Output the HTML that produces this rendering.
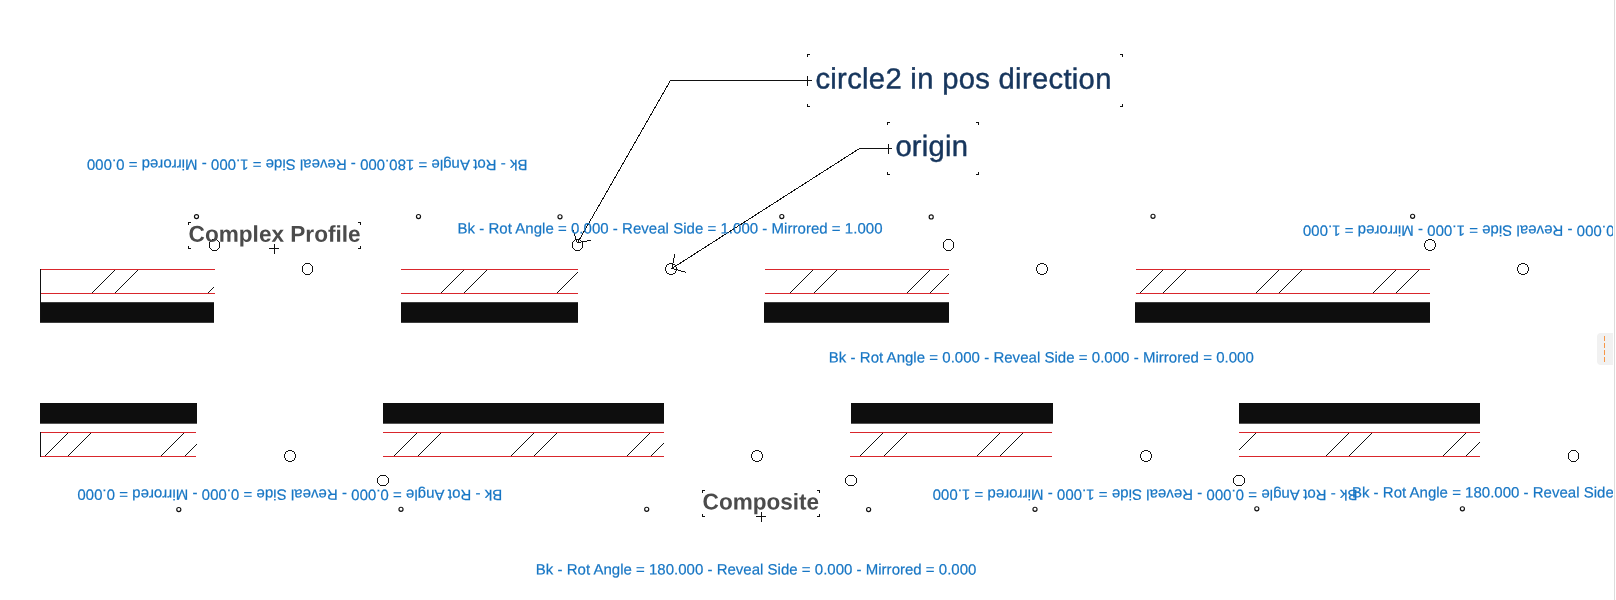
<!DOCTYPE html>
<html><head><meta charset="utf-8"><title>drawing</title>
<style>
html,body{margin:0;padding:0;background:#fff;overflow:hidden}
body{width:1616px;height:600px;position:relative;font-family:"Liberation Sans",sans-serif}
#view{position:absolute;left:0;top:0;width:1613px;height:600px;overflow:hidden;will-change:transform}
svg{display:block;font-family:"Liberation Sans",sans-serif}
svg text{white-space:pre}
#edge{position:absolute;left:1614px;top:0;width:1px;height:600px;background:#dcdcdc}
#tab{position:absolute;left:1597px;top:333px;width:16px;height:32px;background:#f1f1f1;border-radius:4px 0 0 4px}
#tab i{position:absolute;left:7px;top:3px;width:1px;height:26px;background:repeating-linear-gradient(to bottom,#f79646 0,#f79646 5px,transparent 5px,transparent 7px)}
</style></head><body>
<div id="view"><svg width="1613" height="600" viewBox="0 0 1613 600">
<rect x="40" y="302.2" width="174" height="20.6" fill="#0e0e0e"/>
<rect x="40" y="269" width="175" height="1" fill="#d9262c"/>
<rect x="40" y="293" width="175" height="1" fill="#d9262c"/>
<rect x="40" y="269" width="1" height="53" fill="#111"/>
<path d="M114,270h1v1h-1zM113,271h1v1h-1zM112,272h1v1h-1zM111,273h1v1h-1zM110,274h1v1h-1zM109,275h1v1h-1zM108,276h1v1h-1zM107,277h1v1h-1zM106,278h1v1h-1zM105,279h1v1h-1zM104,280h1v1h-1zM103,281h1v1h-1zM102,282h1v1h-1zM101,283h1v1h-1zM100,284h1v1h-1zM99,285h1v1h-1zM98,286h1v1h-1zM97,287h1v1h-1zM96,288h1v1h-1zM95,289h1v1h-1zM94,290h1v1h-1zM93,291h1v1h-1zM92,292h1v1h-1zM137,270h1v1h-1zM136,271h1v1h-1zM135,272h1v1h-1zM134,273h1v1h-1zM133,274h1v1h-1zM132,275h1v1h-1zM131,276h1v1h-1zM130,277h1v1h-1zM129,278h1v1h-1zM128,279h1v1h-1zM127,280h1v1h-1zM126,281h1v1h-1zM125,282h1v1h-1zM124,283h1v1h-1zM123,284h1v1h-1zM122,285h1v1h-1zM121,286h1v1h-1zM120,287h1v1h-1zM119,288h1v1h-1zM118,289h1v1h-1zM117,290h1v1h-1zM116,291h1v1h-1zM115,292h1v1h-1zM213,287h1v1h-1zM212,288h1v1h-1zM211,289h1v1h-1zM210,290h1v1h-1zM209,291h1v1h-1zM208,292h1v1h-1z" fill="#111" shape-rendering="crispEdges"/>
<rect x="401" y="302.2" width="177" height="20.6" fill="#0e0e0e"/>
<rect x="401" y="269" width="177" height="1" fill="#d9262c"/>
<rect x="401" y="293" width="177" height="1" fill="#d9262c"/>
<path d="M463,270h1v1h-1zM462,271h1v1h-1zM461,272h1v1h-1zM460,273h1v1h-1zM459,274h1v1h-1zM458,275h1v1h-1zM457,276h1v1h-1zM456,277h1v1h-1zM455,278h1v1h-1zM454,279h1v1h-1zM453,280h1v1h-1zM452,281h1v1h-1zM451,282h1v1h-1zM450,283h1v1h-1zM449,284h1v1h-1zM448,285h1v1h-1zM447,286h1v1h-1zM446,287h1v1h-1zM445,288h1v1h-1zM444,289h1v1h-1zM443,290h1v1h-1zM442,291h1v1h-1zM441,292h1v1h-1zM486,270h1v1h-1zM485,271h1v1h-1zM484,272h1v1h-1zM483,273h1v1h-1zM482,274h1v1h-1zM481,275h1v1h-1zM480,276h1v1h-1zM479,277h1v1h-1zM478,278h1v1h-1zM477,279h1v1h-1zM476,280h1v1h-1zM475,281h1v1h-1zM474,282h1v1h-1zM473,283h1v1h-1zM472,284h1v1h-1zM471,285h1v1h-1zM470,286h1v1h-1zM469,287h1v1h-1zM468,288h1v1h-1zM467,289h1v1h-1zM466,290h1v1h-1zM465,291h1v1h-1zM464,292h1v1h-1zM577,272h1v1h-1zM576,273h1v1h-1zM575,274h1v1h-1zM574,275h1v1h-1zM573,276h1v1h-1zM572,277h1v1h-1zM571,278h1v1h-1zM570,279h1v1h-1zM569,280h1v1h-1zM568,281h1v1h-1zM567,282h1v1h-1zM566,283h1v1h-1zM565,284h1v1h-1zM564,285h1v1h-1zM563,286h1v1h-1zM562,287h1v1h-1zM561,288h1v1h-1zM560,289h1v1h-1zM559,290h1v1h-1zM558,291h1v1h-1zM557,292h1v1h-1z" fill="#111" shape-rendering="crispEdges"/>
<rect x="764" y="302.2" width="185" height="20.6" fill="#0e0e0e"/>
<rect x="765" y="269" width="184" height="1" fill="#d9262c"/>
<rect x="765" y="293" width="184" height="1" fill="#d9262c"/>
<path d="M812,270h1v1h-1zM811,271h1v1h-1zM810,272h1v1h-1zM809,273h1v1h-1zM808,274h1v1h-1zM807,275h1v1h-1zM806,276h1v1h-1zM805,277h1v1h-1zM804,278h1v1h-1zM803,279h1v1h-1zM802,280h1v1h-1zM801,281h1v1h-1zM800,282h1v1h-1zM799,283h1v1h-1zM798,284h1v1h-1zM797,285h1v1h-1zM796,286h1v1h-1zM795,287h1v1h-1zM794,288h1v1h-1zM793,289h1v1h-1zM792,290h1v1h-1zM791,291h1v1h-1zM790,292h1v1h-1zM836,270h1v1h-1zM835,271h1v1h-1zM834,272h1v1h-1zM833,273h1v1h-1zM832,274h1v1h-1zM831,275h1v1h-1zM830,276h1v1h-1zM829,277h1v1h-1zM828,278h1v1h-1zM827,279h1v1h-1zM826,280h1v1h-1zM825,281h1v1h-1zM824,282h1v1h-1zM823,283h1v1h-1zM822,284h1v1h-1zM821,285h1v1h-1zM820,286h1v1h-1zM819,287h1v1h-1zM818,288h1v1h-1zM817,289h1v1h-1zM816,290h1v1h-1zM815,291h1v1h-1zM814,292h1v1h-1zM929,270h1v1h-1zM928,271h1v1h-1zM927,272h1v1h-1zM926,273h1v1h-1zM925,274h1v1h-1zM924,275h1v1h-1zM923,276h1v1h-1zM922,277h1v1h-1zM921,278h1v1h-1zM920,279h1v1h-1zM919,280h1v1h-1zM918,281h1v1h-1zM917,282h1v1h-1zM916,283h1v1h-1zM915,284h1v1h-1zM914,285h1v1h-1zM913,286h1v1h-1zM912,287h1v1h-1zM911,288h1v1h-1zM910,289h1v1h-1zM909,290h1v1h-1zM908,291h1v1h-1zM907,292h1v1h-1zM948,274h1v1h-1zM947,275h1v1h-1zM946,276h1v1h-1zM945,277h1v1h-1zM944,278h1v1h-1zM943,279h1v1h-1zM942,280h1v1h-1zM941,281h1v1h-1zM940,282h1v1h-1zM939,283h1v1h-1zM938,284h1v1h-1zM937,285h1v1h-1zM936,286h1v1h-1zM935,287h1v1h-1zM934,288h1v1h-1zM933,289h1v1h-1zM932,290h1v1h-1zM931,291h1v1h-1zM930,292h1v1h-1z" fill="#111" shape-rendering="crispEdges"/>
<rect x="1135" y="302.2" width="295" height="20.6" fill="#0e0e0e"/>
<rect x="1136" y="269" width="294" height="1" fill="#d9262c"/>
<rect x="1136" y="293" width="294" height="1" fill="#d9262c"/>
<path d="M1162,270h1v1h-1zM1161,271h1v1h-1zM1160,272h1v1h-1zM1159,273h1v1h-1zM1158,274h1v1h-1zM1157,275h1v1h-1zM1156,276h1v1h-1zM1155,277h1v1h-1zM1154,278h1v1h-1zM1153,279h1v1h-1zM1152,280h1v1h-1zM1151,281h1v1h-1zM1150,282h1v1h-1zM1149,283h1v1h-1zM1148,284h1v1h-1zM1147,285h1v1h-1zM1146,286h1v1h-1zM1145,287h1v1h-1zM1144,288h1v1h-1zM1143,289h1v1h-1zM1142,290h1v1h-1zM1141,291h1v1h-1zM1140,292h1v1h-1zM1185,270h1v1h-1zM1184,271h1v1h-1zM1183,272h1v1h-1zM1182,273h1v1h-1zM1181,274h1v1h-1zM1180,275h1v1h-1zM1179,276h1v1h-1zM1178,277h1v1h-1zM1177,278h1v1h-1zM1176,279h1v1h-1zM1175,280h1v1h-1zM1174,281h1v1h-1zM1173,282h1v1h-1zM1172,283h1v1h-1zM1171,284h1v1h-1zM1170,285h1v1h-1zM1169,286h1v1h-1zM1168,287h1v1h-1zM1167,288h1v1h-1zM1166,289h1v1h-1zM1165,290h1v1h-1zM1164,291h1v1h-1zM1163,292h1v1h-1zM1278,270h1v1h-1zM1277,271h1v1h-1zM1276,272h1v1h-1zM1275,273h1v1h-1zM1274,274h1v1h-1zM1273,275h1v1h-1zM1272,276h1v1h-1zM1271,277h1v1h-1zM1270,278h1v1h-1zM1269,279h1v1h-1zM1268,280h1v1h-1zM1267,281h1v1h-1zM1266,282h1v1h-1zM1265,283h1v1h-1zM1264,284h1v1h-1zM1263,285h1v1h-1zM1262,286h1v1h-1zM1261,287h1v1h-1zM1260,288h1v1h-1zM1259,289h1v1h-1zM1258,290h1v1h-1zM1257,291h1v1h-1zM1256,292h1v1h-1zM1301,270h1v1h-1zM1300,271h1v1h-1zM1299,272h1v1h-1zM1298,273h1v1h-1zM1297,274h1v1h-1zM1296,275h1v1h-1zM1295,276h1v1h-1zM1294,277h1v1h-1zM1293,278h1v1h-1zM1292,279h1v1h-1zM1291,280h1v1h-1zM1290,281h1v1h-1zM1289,282h1v1h-1zM1288,283h1v1h-1zM1287,284h1v1h-1zM1286,285h1v1h-1zM1285,286h1v1h-1zM1284,287h1v1h-1zM1283,288h1v1h-1zM1282,289h1v1h-1zM1281,290h1v1h-1zM1280,291h1v1h-1zM1279,292h1v1h-1zM1395,270h1v1h-1zM1394,271h1v1h-1zM1393,272h1v1h-1zM1392,273h1v1h-1zM1391,274h1v1h-1zM1390,275h1v1h-1zM1389,276h1v1h-1zM1388,277h1v1h-1zM1387,278h1v1h-1zM1386,279h1v1h-1zM1385,280h1v1h-1zM1384,281h1v1h-1zM1383,282h1v1h-1zM1382,283h1v1h-1zM1381,284h1v1h-1zM1380,285h1v1h-1zM1379,286h1v1h-1zM1378,287h1v1h-1zM1377,288h1v1h-1zM1376,289h1v1h-1zM1375,290h1v1h-1zM1374,291h1v1h-1zM1373,292h1v1h-1zM1418,270h1v1h-1zM1417,271h1v1h-1zM1416,272h1v1h-1zM1415,273h1v1h-1zM1414,274h1v1h-1zM1413,275h1v1h-1zM1412,276h1v1h-1zM1411,277h1v1h-1zM1410,278h1v1h-1zM1409,279h1v1h-1zM1408,280h1v1h-1zM1407,281h1v1h-1zM1406,282h1v1h-1zM1405,283h1v1h-1zM1404,284h1v1h-1zM1403,285h1v1h-1zM1402,286h1v1h-1zM1401,287h1v1h-1zM1400,288h1v1h-1zM1399,289h1v1h-1zM1398,290h1v1h-1zM1397,291h1v1h-1zM1396,292h1v1h-1z" fill="#111" shape-rendering="crispEdges"/>
<rect x="40" y="403" width="157" height="20.7" fill="#0e0e0e"/>
<rect x="40" y="432" width="156" height="1" fill="#d9262c"/>
<rect x="40" y="456" width="156" height="1" fill="#d9262c"/>
<rect x="40" y="432" width="1" height="25" fill="#111"/>
<path d="M67,433h1v1h-1zM66,434h1v1h-1zM65,435h1v1h-1zM64,436h1v1h-1zM63,437h1v1h-1zM62,438h1v1h-1zM61,439h1v1h-1zM60,440h1v1h-1zM59,441h1v1h-1zM58,442h1v1h-1zM57,443h1v1h-1zM56,444h1v1h-1zM55,445h1v1h-1zM54,446h1v1h-1zM53,447h1v1h-1zM52,448h1v1h-1zM51,449h1v1h-1zM50,450h1v1h-1zM49,451h1v1h-1zM48,452h1v1h-1zM47,453h1v1h-1zM46,454h1v1h-1zM45,455h1v1h-1zM90,433h1v1h-1zM89,434h1v1h-1zM88,435h1v1h-1zM87,436h1v1h-1zM86,437h1v1h-1zM85,438h1v1h-1zM84,439h1v1h-1zM83,440h1v1h-1zM82,441h1v1h-1zM81,442h1v1h-1zM80,443h1v1h-1zM79,444h1v1h-1zM78,445h1v1h-1zM77,446h1v1h-1zM76,447h1v1h-1zM75,448h1v1h-1zM74,449h1v1h-1zM73,450h1v1h-1zM72,451h1v1h-1zM71,452h1v1h-1zM70,453h1v1h-1zM69,454h1v1h-1zM68,455h1v1h-1zM183,433h1v1h-1zM182,434h1v1h-1zM181,435h1v1h-1zM180,436h1v1h-1zM179,437h1v1h-1zM178,438h1v1h-1zM177,439h1v1h-1zM176,440h1v1h-1zM175,441h1v1h-1zM174,442h1v1h-1zM173,443h1v1h-1zM172,444h1v1h-1zM171,445h1v1h-1zM170,446h1v1h-1zM169,447h1v1h-1zM168,448h1v1h-1zM167,449h1v1h-1zM166,450h1v1h-1zM165,451h1v1h-1zM164,452h1v1h-1zM163,453h1v1h-1zM162,454h1v1h-1zM161,455h1v1h-1zM196,444h1v1h-1zM195,445h1v1h-1zM194,446h1v1h-1zM193,447h1v1h-1zM192,448h1v1h-1zM191,449h1v1h-1zM190,450h1v1h-1zM189,451h1v1h-1zM188,452h1v1h-1zM187,453h1v1h-1zM186,454h1v1h-1zM185,455h1v1h-1z" fill="#111" shape-rendering="crispEdges"/>
<rect x="383" y="403" width="281" height="20.7" fill="#0e0e0e"/>
<rect x="383" y="432" width="281" height="1" fill="#d9262c"/>
<rect x="383" y="456" width="281" height="1" fill="#d9262c"/>
<path d="M416,433h1v1h-1zM415,434h1v1h-1zM414,435h1v1h-1zM413,436h1v1h-1zM412,437h1v1h-1zM411,438h1v1h-1zM410,439h1v1h-1zM409,440h1v1h-1zM408,441h1v1h-1zM407,442h1v1h-1zM406,443h1v1h-1zM405,444h1v1h-1zM404,445h1v1h-1zM403,446h1v1h-1zM402,447h1v1h-1zM401,448h1v1h-1zM400,449h1v1h-1zM399,450h1v1h-1zM398,451h1v1h-1zM397,452h1v1h-1zM396,453h1v1h-1zM395,454h1v1h-1zM394,455h1v1h-1zM440,433h1v1h-1zM439,434h1v1h-1zM438,435h1v1h-1zM437,436h1v1h-1zM436,437h1v1h-1zM435,438h1v1h-1zM434,439h1v1h-1zM433,440h1v1h-1zM432,441h1v1h-1zM431,442h1v1h-1zM430,443h1v1h-1zM429,444h1v1h-1zM428,445h1v1h-1zM427,446h1v1h-1zM426,447h1v1h-1zM425,448h1v1h-1zM424,449h1v1h-1zM423,450h1v1h-1zM422,451h1v1h-1zM421,452h1v1h-1zM420,453h1v1h-1zM419,454h1v1h-1zM418,455h1v1h-1zM533,433h1v1h-1zM532,434h1v1h-1zM531,435h1v1h-1zM530,436h1v1h-1zM529,437h1v1h-1zM528,438h1v1h-1zM527,439h1v1h-1zM526,440h1v1h-1zM525,441h1v1h-1zM524,442h1v1h-1zM523,443h1v1h-1zM522,444h1v1h-1zM521,445h1v1h-1zM520,446h1v1h-1zM519,447h1v1h-1zM518,448h1v1h-1zM517,449h1v1h-1zM516,450h1v1h-1zM515,451h1v1h-1zM514,452h1v1h-1zM513,453h1v1h-1zM512,454h1v1h-1zM511,455h1v1h-1zM556,433h1v1h-1zM555,434h1v1h-1zM554,435h1v1h-1zM553,436h1v1h-1zM552,437h1v1h-1zM551,438h1v1h-1zM550,439h1v1h-1zM549,440h1v1h-1zM548,441h1v1h-1zM547,442h1v1h-1zM546,443h1v1h-1zM545,444h1v1h-1zM544,445h1v1h-1zM543,446h1v1h-1zM542,447h1v1h-1zM541,448h1v1h-1zM540,449h1v1h-1zM539,450h1v1h-1zM538,451h1v1h-1zM537,452h1v1h-1zM536,453h1v1h-1zM535,454h1v1h-1zM534,455h1v1h-1zM649,433h1v1h-1zM648,434h1v1h-1zM647,435h1v1h-1zM646,436h1v1h-1zM645,437h1v1h-1zM644,438h1v1h-1zM643,439h1v1h-1zM642,440h1v1h-1zM641,441h1v1h-1zM640,442h1v1h-1zM639,443h1v1h-1zM638,444h1v1h-1zM637,445h1v1h-1zM636,446h1v1h-1zM635,447h1v1h-1zM634,448h1v1h-1zM633,449h1v1h-1zM632,450h1v1h-1zM631,451h1v1h-1zM630,452h1v1h-1zM629,453h1v1h-1zM628,454h1v1h-1zM627,455h1v1h-1zM663,443h1v1h-1zM662,444h1v1h-1zM661,445h1v1h-1zM660,446h1v1h-1zM659,447h1v1h-1zM658,448h1v1h-1zM657,449h1v1h-1zM656,450h1v1h-1zM655,451h1v1h-1zM654,452h1v1h-1zM653,453h1v1h-1zM652,454h1v1h-1zM651,455h1v1h-1z" fill="#111" shape-rendering="crispEdges"/>
<rect x="851" y="403" width="202" height="20.7" fill="#0e0e0e"/>
<rect x="850" y="432" width="202" height="1" fill="#d9262c"/>
<rect x="850" y="456" width="202" height="1" fill="#d9262c"/>
<path d="M882,433h1v1h-1zM881,434h1v1h-1zM880,435h1v1h-1zM879,436h1v1h-1zM878,437h1v1h-1zM877,438h1v1h-1zM876,439h1v1h-1zM875,440h1v1h-1zM874,441h1v1h-1zM873,442h1v1h-1zM872,443h1v1h-1zM871,444h1v1h-1zM870,445h1v1h-1zM869,446h1v1h-1zM868,447h1v1h-1zM867,448h1v1h-1zM866,449h1v1h-1zM865,450h1v1h-1zM864,451h1v1h-1zM863,452h1v1h-1zM862,453h1v1h-1zM861,454h1v1h-1zM860,455h1v1h-1zM906,433h1v1h-1zM905,434h1v1h-1zM904,435h1v1h-1zM903,436h1v1h-1zM902,437h1v1h-1zM901,438h1v1h-1zM900,439h1v1h-1zM899,440h1v1h-1zM898,441h1v1h-1zM897,442h1v1h-1zM896,443h1v1h-1zM895,444h1v1h-1zM894,445h1v1h-1zM893,446h1v1h-1zM892,447h1v1h-1zM891,448h1v1h-1zM890,449h1v1h-1zM889,450h1v1h-1zM888,451h1v1h-1zM887,452h1v1h-1zM886,453h1v1h-1zM885,454h1v1h-1zM884,455h1v1h-1zM999,433h1v1h-1zM998,434h1v1h-1zM997,435h1v1h-1zM996,436h1v1h-1zM995,437h1v1h-1zM994,438h1v1h-1zM993,439h1v1h-1zM992,440h1v1h-1zM991,441h1v1h-1zM990,442h1v1h-1zM989,443h1v1h-1zM988,444h1v1h-1zM987,445h1v1h-1zM986,446h1v1h-1zM985,447h1v1h-1zM984,448h1v1h-1zM983,449h1v1h-1zM982,450h1v1h-1zM981,451h1v1h-1zM980,452h1v1h-1zM979,453h1v1h-1zM978,454h1v1h-1zM977,455h1v1h-1zM1022,433h1v1h-1zM1021,434h1v1h-1zM1020,435h1v1h-1zM1019,436h1v1h-1zM1018,437h1v1h-1zM1017,438h1v1h-1zM1016,439h1v1h-1zM1015,440h1v1h-1zM1014,441h1v1h-1zM1013,442h1v1h-1zM1012,443h1v1h-1zM1011,444h1v1h-1zM1010,445h1v1h-1zM1009,446h1v1h-1zM1008,447h1v1h-1zM1007,448h1v1h-1zM1006,449h1v1h-1zM1005,450h1v1h-1zM1004,451h1v1h-1zM1003,452h1v1h-1zM1002,453h1v1h-1zM1001,454h1v1h-1zM1000,455h1v1h-1z" fill="#111" shape-rendering="crispEdges"/>
<rect x="1239" y="403" width="241" height="20.7" fill="#0e0e0e"/>
<rect x="1239" y="432" width="241" height="1" fill="#d9262c"/>
<rect x="1239" y="456" width="241" height="1" fill="#d9262c"/>
<path d="M1255,433h1v1h-1zM1254,434h1v1h-1zM1253,435h1v1h-1zM1252,436h1v1h-1zM1251,437h1v1h-1zM1250,438h1v1h-1zM1249,439h1v1h-1zM1248,440h1v1h-1zM1247,441h1v1h-1zM1246,442h1v1h-1zM1245,443h1v1h-1zM1244,444h1v1h-1zM1243,445h1v1h-1zM1242,446h1v1h-1zM1241,447h1v1h-1zM1240,448h1v1h-1zM1239,449h1v1h-1zM1348,433h1v1h-1zM1347,434h1v1h-1zM1346,435h1v1h-1zM1345,436h1v1h-1zM1344,437h1v1h-1zM1343,438h1v1h-1zM1342,439h1v1h-1zM1341,440h1v1h-1zM1340,441h1v1h-1zM1339,442h1v1h-1zM1338,443h1v1h-1zM1337,444h1v1h-1zM1336,445h1v1h-1zM1335,446h1v1h-1zM1334,447h1v1h-1zM1333,448h1v1h-1zM1332,449h1v1h-1zM1331,450h1v1h-1zM1330,451h1v1h-1zM1329,452h1v1h-1zM1328,453h1v1h-1zM1327,454h1v1h-1zM1326,455h1v1h-1zM1371,433h1v1h-1zM1370,434h1v1h-1zM1369,435h1v1h-1zM1368,436h1v1h-1zM1367,437h1v1h-1zM1366,438h1v1h-1zM1365,439h1v1h-1zM1364,440h1v1h-1zM1363,441h1v1h-1zM1362,442h1v1h-1zM1361,443h1v1h-1zM1360,444h1v1h-1zM1359,445h1v1h-1zM1358,446h1v1h-1zM1357,447h1v1h-1zM1356,448h1v1h-1zM1355,449h1v1h-1zM1354,450h1v1h-1zM1353,451h1v1h-1zM1352,452h1v1h-1zM1351,453h1v1h-1zM1350,454h1v1h-1zM1349,455h1v1h-1zM1465,433h1v1h-1zM1464,434h1v1h-1zM1463,435h1v1h-1zM1462,436h1v1h-1zM1461,437h1v1h-1zM1460,438h1v1h-1zM1459,439h1v1h-1zM1458,440h1v1h-1zM1457,441h1v1h-1zM1456,442h1v1h-1zM1455,443h1v1h-1zM1454,444h1v1h-1zM1453,445h1v1h-1zM1452,446h1v1h-1zM1451,447h1v1h-1zM1450,448h1v1h-1zM1449,449h1v1h-1zM1448,450h1v1h-1zM1447,451h1v1h-1zM1446,452h1v1h-1zM1445,453h1v1h-1zM1444,454h1v1h-1zM1443,455h1v1h-1zM1479,442h1v1h-1zM1478,443h1v1h-1zM1477,444h1v1h-1zM1476,445h1v1h-1zM1475,446h1v1h-1zM1474,447h1v1h-1zM1473,448h1v1h-1zM1472,449h1v1h-1zM1471,450h1v1h-1zM1470,451h1v1h-1zM1469,452h1v1h-1zM1468,453h1v1h-1zM1467,454h1v1h-1zM1466,455h1v1h-1z" fill="#111" shape-rendering="crispEdges"/>
<circle cx="214.5" cy="245" r="5.5" fill="none" stroke="#111" stroke-width="1" shape-rendering="crispEdges"/>
<circle cx="307.5" cy="269" r="5.5" fill="none" stroke="#111" stroke-width="1" shape-rendering="crispEdges"/>
<circle cx="577.5" cy="245" r="5.5" fill="none" stroke="#111" stroke-width="1" shape-rendering="crispEdges"/>
<circle cx="671" cy="269" r="5.5" fill="none" stroke="#111" stroke-width="1" shape-rendering="crispEdges"/>
<circle cx="948.5" cy="245" r="5.5" fill="none" stroke="#111" stroke-width="1" shape-rendering="crispEdges"/>
<circle cx="1042" cy="269" r="5.5" fill="none" stroke="#111" stroke-width="1" shape-rendering="crispEdges"/>
<circle cx="1430" cy="245" r="5.5" fill="none" stroke="#111" stroke-width="1" shape-rendering="crispEdges"/>
<circle cx="1523" cy="269" r="5.5" fill="none" stroke="#111" stroke-width="1" shape-rendering="crispEdges"/>
<circle cx="290" cy="456" r="5.5" fill="none" stroke="#111" stroke-width="1" shape-rendering="crispEdges"/>
<circle cx="383" cy="480.5" r="5.5" fill="none" stroke="#111" stroke-width="1" shape-rendering="crispEdges"/>
<circle cx="757" cy="456" r="5.5" fill="none" stroke="#111" stroke-width="1" shape-rendering="crispEdges"/>
<circle cx="851" cy="480.5" r="5.5" fill="none" stroke="#111" stroke-width="1" shape-rendering="crispEdges"/>
<circle cx="1146" cy="456" r="5.5" fill="none" stroke="#111" stroke-width="1" shape-rendering="crispEdges"/>
<circle cx="1239" cy="480.5" r="5.5" fill="none" stroke="#111" stroke-width="1" shape-rendering="crispEdges"/>
<circle cx="1573.5" cy="456" r="5.5" fill="none" stroke="#111" stroke-width="1" shape-rendering="crispEdges"/>
<circle cx="196.5" cy="216.6" r="2.05" fill="none" stroke="#111" stroke-width="1.15"/>
<circle cx="418.5" cy="216.5" r="2.05" fill="none" stroke="#111" stroke-width="1.15"/>
<circle cx="560" cy="216.8" r="2.05" fill="none" stroke="#111" stroke-width="1.15"/>
<circle cx="781.8" cy="216.5" r="2.05" fill="none" stroke="#111" stroke-width="1.15"/>
<circle cx="931.2" cy="216.9" r="2.05" fill="none" stroke="#111" stroke-width="1.15"/>
<circle cx="1153" cy="216.3" r="2.05" fill="none" stroke="#111" stroke-width="1.15"/>
<circle cx="1412.6" cy="216.3" r="2.05" fill="none" stroke="#111" stroke-width="1.15"/>
<circle cx="178.8" cy="509.5" r="2.05" fill="none" stroke="#111" stroke-width="1.15"/>
<circle cx="401" cy="509.3" r="2.05" fill="none" stroke="#111" stroke-width="1.15"/>
<circle cx="646.7" cy="509.3" r="2.05" fill="none" stroke="#111" stroke-width="1.15"/>
<circle cx="868.6" cy="509.5" r="2.05" fill="none" stroke="#111" stroke-width="1.15"/>
<circle cx="1035" cy="509.3" r="2.05" fill="none" stroke="#111" stroke-width="1.15"/>
<circle cx="1256.8" cy="508.8" r="2.05" fill="none" stroke="#111" stroke-width="1.15"/>
<circle cx="1462.4" cy="508.8" r="2.05" fill="none" stroke="#111" stroke-width="1.15"/>
<rect x="188.0" y="222.0" width="3" height="1" fill="#111"/>
<rect x="188.0" y="222.0" width="1" height="3" fill="#111"/>
<rect x="358.0" y="222.0" width="3" height="1" fill="#111"/>
<rect x="360.0" y="222.0" width="1" height="3" fill="#111"/>
<rect x="188.0" y="248.0" width="3" height="1" fill="#111"/>
<rect x="188.0" y="246.0" width="1" height="3" fill="#111"/>
<rect x="358.0" y="248.0" width="3" height="1" fill="#111"/>
<rect x="360.0" y="246.0" width="1" height="3" fill="#111"/>
<text transform="translate(188.6,241.7) rotate(0.03)" font-size="22.9" font-weight="bold" fill="#4b4b4b" textLength="172" lengthAdjust="spacingAndGlyphs">Complex Profile</text>
<path d="M269.0,248.5H279.0M274.5,244.0V254.0" fill="none" stroke="#111" stroke-width="1" shape-rendering="crispEdges"/>
<rect x="702.0" y="490.0" width="3" height="1" fill="#111"/>
<rect x="702.0" y="490.0" width="1" height="3" fill="#111"/>
<rect x="817.0" y="490.0" width="3" height="1" fill="#111"/>
<rect x="819.0" y="490.0" width="1" height="3" fill="#111"/>
<rect x="702.0" y="516.0" width="3" height="1" fill="#111"/>
<rect x="702.0" y="514.0" width="1" height="3" fill="#111"/>
<rect x="817.0" y="516.0" width="3" height="1" fill="#111"/>
<rect x="819.0" y="514.0" width="1" height="3" fill="#111"/>
<text transform="translate(702.6,509.45) rotate(0.03)" font-size="22.9" font-weight="bold" fill="#4b4b4b" textLength="116.5" lengthAdjust="spacingAndGlyphs">Composite</text>
<path d="M756.0,516.5H766.0M761.5,512.0V522.0" fill="none" stroke="#111" stroke-width="1" shape-rendering="crispEdges"/>
<rect x="807.0" y="54.0" width="3" height="1" fill="#111"/>
<rect x="807.0" y="54.0" width="1" height="3" fill="#111"/>
<rect x="1120.0" y="54.0" width="3" height="1" fill="#111"/>
<rect x="1122.0" y="54.0" width="1" height="3" fill="#111"/>
<rect x="807.0" y="106.0" width="3" height="1" fill="#111"/>
<rect x="807.0" y="104.0" width="1" height="3" fill="#111"/>
<rect x="1120.0" y="106.0" width="3" height="1" fill="#111"/>
<rect x="1122.0" y="104.0" width="1" height="3" fill="#111"/>
<text transform="translate(815.4,88.5) rotate(0.03)" font-size="29.2" fill="#17365d" stroke="#17365d" stroke-width="0.45" textLength="296" lengthAdjust="spacing">circle2 in pos direction</text>
<path d="M812,80.5H670.5L577.5,243" fill="none" stroke="#111" stroke-width="1" shape-rendering="crispEdges"/>
<path d="M807.5,76V86" fill="none" stroke="#111" stroke-width="1" shape-rendering="crispEdges"/>
<path d="M572.7,228.7L577.3,242.7L590.7,240.4" fill="none" stroke="#111" stroke-width="1" shape-rendering="crispEdges"/>
<rect x="887.0" y="122.0" width="3" height="1" fill="#111"/>
<rect x="887.0" y="122.0" width="1" height="3" fill="#111"/>
<rect x="976.0" y="122.0" width="3" height="1" fill="#111"/>
<rect x="978.0" y="122.0" width="1" height="3" fill="#111"/>
<rect x="887.0" y="174.0" width="3" height="1" fill="#111"/>
<rect x="887.0" y="172.0" width="1" height="3" fill="#111"/>
<rect x="976.0" y="174.0" width="3" height="1" fill="#111"/>
<rect x="978.0" y="172.0" width="1" height="3" fill="#111"/>
<text transform="translate(895.4,156) rotate(0.03)" font-size="29.2" textLength="72.6" lengthAdjust="spacing" fill="#17365d" stroke="#17365d" stroke-width="0.45">origin</text>
<path d="M892,148.5H859.5L672,268.4" fill="none" stroke="#111" stroke-width="1" shape-rendering="crispEdges"/>
<path d="M888.5,144V154" fill="none" stroke="#111" stroke-width="1" shape-rendering="crispEdges"/>
<path d="M674.7,254L672,268.4L685.7,272.3" fill="none" stroke="#111" stroke-width="1" shape-rendering="crispEdges"/>
<text transform="translate(527.5,159.7) rotate(180.03)" font-size="15" fill="#1776c4" stroke="#1776c4" stroke-width="0.2" textLength="440.6" lengthAdjust="spacing">Bk - Rot Angle = 180.000 - Reveal Side = 1.000 - Mirrored = 0.000</text>
<text transform="translate(457.5,233.4) rotate(0.03)" font-size="15" fill="#1776c4" stroke="#1776c4" stroke-width="0.2" textLength="425" lengthAdjust="spacing">Bk - Rot Angle = 0.000 - Reveal Side = 1.000 - Mirrored = 1.000</text>
<text transform="translate(1727.9,225.7) rotate(180.03)" font-size="15" fill="#1776c4" stroke="#1776c4" stroke-width="0.2" textLength="425" lengthAdjust="spacing">Bk - Rot Angle = 0.000 - Reveal Side = 1.000 - Mirrored = 1.000</text>
<text transform="translate(828.8,362.4) rotate(0.03)" font-size="15" fill="#1776c4" stroke="#1776c4" stroke-width="0.2" textLength="425" lengthAdjust="spacing">Bk - Rot Angle = 0.000 - Reveal Side = 0.000 - Mirrored = 0.000</text>
<text transform="translate(502.3,489.7) rotate(180.03)" font-size="15" fill="#1776c4" stroke="#1776c4" stroke-width="0.2" textLength="425" lengthAdjust="spacing">Bk - Rot Angle = 0.000 - Reveal Side = 0.000 - Mirrored = 0.000</text>
<text transform="translate(1357.6,489.7) rotate(180.03)" font-size="15" fill="#1776c4" stroke="#1776c4" stroke-width="0.2" textLength="425" lengthAdjust="spacing">Bk - Rot Angle = 0.000 - Reveal Side = 1.000 - Mirrored = 1.000</text>
<text transform="translate(1351.9,497.4) rotate(0.03)" font-size="15" fill="#1776c4" stroke="#1776c4" stroke-width="0.2" textLength="440.6" lengthAdjust="spacing">Bk - Rot Angle = 180.000 - Reveal Side = 0.000 - Mirrored = 0.000</text>
<text transform="translate(535.8,574.4) rotate(0.03)" font-size="15" fill="#1776c4" stroke="#1776c4" stroke-width="0.2" textLength="440.6" lengthAdjust="spacing">Bk - Rot Angle = 180.000 - Reveal Side = 0.000 - Mirrored = 0.000</text>
</svg></div>
<div id="tab"><i></i></div>
<div id="edge"></div>
</body></html>
